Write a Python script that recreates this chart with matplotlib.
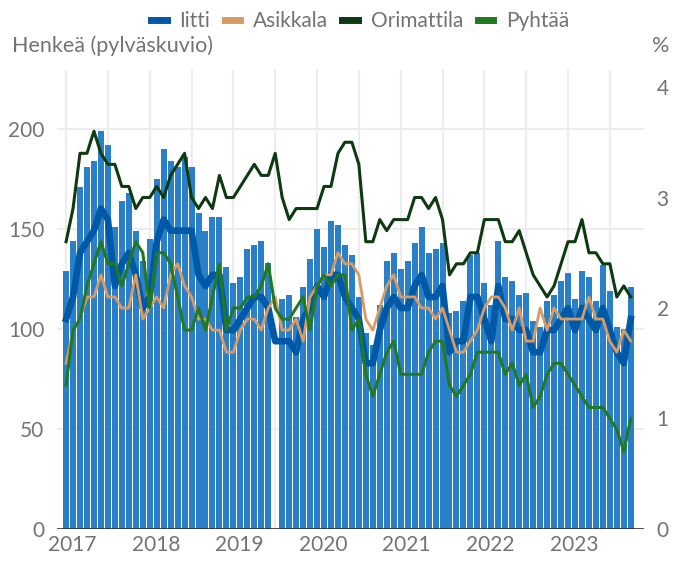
import numpy as np
import matplotlib
matplotlib.use("Agg")
import matplotlib.pyplot as plt
from matplotlib.lines import Line2D

plt.rcParams["font.family"] = ["Lato", "DejaVu Sans"]

# monthly data, Jan 2017 - Oct 2023 (Jul 2019 bar missing)
years = ["2017", "2018", "2019", "2020", "2021", "2022", "2023"]

henkea = [129, 144, 171, 181, 184, 199, 192, 151, 164, 168, 149, 134,
          145, 175, 190, 184, 181, 186, 181, 158, 149, 156, 156, 131,
          123, 126, 140, 142, 144, 133, None, 115, 117, 106, 121, 135,
          150, 141, 154, 152, 142, 137, 116, 98, 92, 112, 134, 138,
          130, 134, 143, 151, 138, 140, 143, 108, 109, 114, 137, 138,
          123, 112, 144, 126, 124, 117, 118, 104, 101, 114, 117, 124,
          128, 115, 129, 126, 114, 132, 119, 101, 100, 121]

iitti = [1.9, 2.1, 2.5, 2.6, 2.7, 2.9, 2.8, 2.2, 2.4, 2.5, 2.3, 2.0,
         2.1, 2.6, 2.8, 2.7, 2.7, 2.7, 2.7, 2.3, 2.2, 2.3, 2.3, 1.8,
         1.8, 1.9, 2.0, 2.1, 2.1, 2.0, 1.7, 1.7, 1.7, 1.6, 1.9, 2.0,
         2.2, 2.1, 2.3, 2.3, 2.1, 2.0, 1.9, 1.5, 1.5, 1.8, 2.0, 2.1,
         2.0, 2.0, 2.2, 2.3, 2.1, 2.1, 2.2, 1.6, 1.7, 1.7, 2.1, 2.1,
         1.9, 1.7, 2.2, 1.9, 1.9, 1.8, 1.8, 1.6, 1.6, 1.8, 1.8, 1.9,
         2.0, 1.8, 2.0, 1.9, 1.8, 2.0, 1.8, 1.6, 1.5, 1.9]

asikkala = [1.5, 1.8, 1.9, 2.1, 2.1, 2.3, 2.1, 2.1, 2.0, 2.0, 2.3, 1.9,
            2.0, 2.1, 2.0, 2.3, 2.4, 2.2, 2.1, 1.9, 1.9, 1.8, 1.8, 1.6,
            1.6, 1.8, 1.9, 1.9, 1.8, 2.0, 2.1, 1.8, 1.8, 1.9, 1.7, 2.1,
            2.2, 2.3, 2.3, 2.5, 2.4, 2.4, 2.3, 1.9, 1.8, 2.0, 2.2, 2.3,
            2.1, 2.1, 2.1, 2.0, 2.0, 1.9, 2.0, 1.8, 1.6, 1.6, 1.7, 1.8,
            2.0, 2.1, 2.1, 2.0, 1.8, 2.0, 1.7, 1.7, 2.0, 1.8, 2.0, 1.9,
            1.9, 1.9, 1.9, 2.1, 1.9, 1.9, 1.7, 1.6, 1.8, 1.7]

orimattila = [2.6, 2.9, 3.4, 3.4, 3.6, 3.4, 3.3, 3.3, 3.1, 3.1, 2.9, 3.0,
              3.0, 3.1, 3.0, 3.2, 3.3, 3.4, 3.0, 2.9, 3.0, 2.9, 3.2, 3.0,
              3.0, 3.1, 3.2, 3.3, 3.2, 3.2, 3.4, 3.0, 2.8, 2.9, 2.9, 2.9,
              2.9, 3.1, 3.1, 3.4, 3.5, 3.5, 3.3, 2.6, 2.6, 2.8, 2.7, 2.8,
              2.8, 2.8, 3.0, 3.0, 2.9, 3.0, 2.8, 2.3, 2.4, 2.4, 2.5, 2.5,
              2.8, 2.8, 2.8, 2.6, 2.6, 2.7, 2.5, 2.3, 2.2, 2.1, 2.2, 2.4,
              2.6, 2.6, 2.8, 2.5, 2.5, 2.4, 2.4, 2.1, 2.2, 2.1]

pyhtaa = [1.3, 1.8, 1.9, 2.2, 2.4, 2.6, 2.4, 2.4, 2.2, 2.4, 2.6, 2.5,
          2.0, 2.5, 2.5, 2.4, 2.1, 1.8, 1.8, 2.0, 1.8, 2.1, 2.4, 1.8,
          2.0, 2.0, 2.1, 2.1, 2.2, 2.4, 2.0, 1.9, 1.9, 2.0, 2.1, 1.8,
          2.2, 2.3, 2.2, 2.3, 2.3, 1.8, 1.9, 1.4, 1.2, 1.4, 1.6, 1.7,
          1.4, 1.4, 1.4, 1.4, 1.6, 1.7, 1.7, 1.3, 1.2, 1.3, 1.4, 1.6,
          1.6, 1.6, 1.6, 1.4, 1.5, 1.3, 1.4, 1.1, 1.2, 1.4, 1.5, 1.5,
          1.4, 1.3, 1.2, 1.1, 1.1, 1.1, 1.0, 0.9, 0.7, 1.0]

grey = "#737373"
bar_col = "#2a80c8"
line_cols = {"Iitti": "#0059a6", "Asikkala": "#d99b64",
             "Orimattila": "#0d3a10", "Pyhtää": "#22791f"}

months = np.arange(len(henkea))
h = np.array([np.nan if v is None else v for v in henkea], dtype=float)
ok = ~np.isnan(h)

fig = plt.figure(figsize=(6.79, 5.61), dpi=100)
ax = fig.add_axes([57/679, 1-529/561, (644-57)/679, (529-70)/561])

ax.bar(months[ok], h[ok], width=0.86, color=bar_col, zorder=2)
ax.set_xlim(-1.3, 82.9)
ax.set_ylim(0, 229.5)

# grid
for m in range(0, 84, 6):
    ax.axvline(m, color="#ededed", lw=1.6, zorder=0)
ax.set_yticks([0, 50, 100, 150, 200])
ax.yaxis.grid(True, color="#ededed", lw=1.6, zorder=0)
ax.set_axisbelow(True)
ax.axhline(0, color="#222222", lw=1.8, zorder=3)

ax.set_xticks(np.arange(len(years)) * 12 + 0.86)
ax.set_xticklabels(years)
ax.tick_params(axis="both", length=0, labelsize=15, labelcolor=grey)
ax.tick_params(axis="x", pad=4)
ax.tick_params(axis="y", pad=9)
for s in ax.spines.values():
    s.set_visible(False)

ax2 = ax.twinx()
ax2.set_ylim(0, 529/110.5 - 70/110.5)
ax2.set_yticks([0, 1, 2, 3, 4])
ax2.tick_params(axis="y", length=0, labelsize=15, labelcolor=grey, pad=9)
for s in ax2.spines.values():
    s.set_visible(False)

ax2.plot(months, iitti, color=line_cols["Iitti"], lw=4.8, solid_joinstyle="round", zorder=3)
ax2.plot(months, asikkala, color=line_cols["Asikkala"], lw=2.0, zorder=4)
ax2.plot(months, orimattila, color=line_cols["Orimattila"], lw=2.2, zorder=5)
ax2.plot(months, pyhtaa, color=line_cols["Pyhtää"], lw=2.2, zorder=6)

fig.text(12/679, 1-46/561, "Henkeä (pylväskuvio)", fontsize=15.5, color=grey,
         ha="left", va="center")
fig.text(661/679, 1-46/561, "%", fontsize=15.5, color=grey, ha="center", va="center")

handles = [Line2D([], [], color=c, lw=5) for c in line_cols.values()]
fig.legend(handles, list(line_cols.keys()), loc="center", ncol=4,
           bbox_to_anchor=(360/679, 1-21/561), frameon=False, fontsize=15,
           handlelength=0.75, handletextpad=0.6, columnspacing=0.7,
           labelcolor=grey)

fig.savefig("out.png", dpi=100)
